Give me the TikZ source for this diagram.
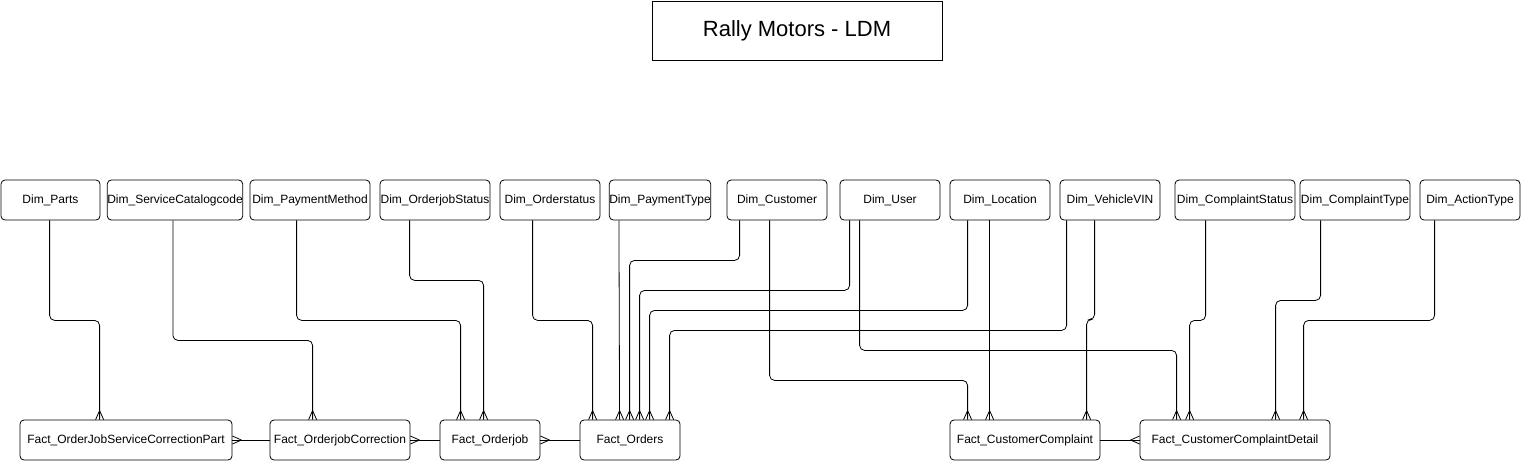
\documentclass[tikz,border=0pt]{standalone}
\usepackage{fontspec}
\setmainfont{Liberation Sans}
\usetikzlibrary{arrows.meta}
\pgfdeclarearrow{
  name = ERmany,
  parameters = {\the\pgfarrowlength,\the\pgfarrowwidth},
  setup code = {
    \pgfarrowssettipend{0pt}
    \pgfarrowssetlineend{0pt}
    \pgfarrowssetbackend{-\pgfarrowlength}
    \pgfarrowssetvisualbackend{-\pgfarrowlength}
    \pgfarrowsupperhullpoint{0pt}{.5\pgfarrowwidth}
    \pgfarrowshullpoint{-\pgfarrowlength}{0pt}
    \pgfarrowssavethe\pgfarrowlength
    \pgfarrowssavethe\pgfarrowwidth
  },
  drawing code = {
    \pgfsetroundjoin
    \pgfpathmoveto{\pgfqpoint{0pt}{.5\pgfarrowwidth}}
    \pgfpathlineto{\pgfqpoint{-\pgfarrowlength}{0pt}}
    \pgfpathlineto{\pgfqpoint{0pt}{-.5\pgfarrowwidth}}
    \pgfusepathqstroke
  },
  defaults = {length = 9pt, width = 8pt}
}
\begin{document}
\begin{tikzpicture}[x=1pt,y=-1pt,
  ent/.style={draw, rounded corners=4pt, minimum height=40pt, inner sep=0pt,
    font=\fontsize{12}{14}\selectfont, line width=0.8pt},
  titlebox/.style={draw, minimum height=59pt, minimum width=290pt, inner sep=0pt,
    font=\fontsize{22}{26}\selectfont, line width=0.8pt},
  rel/.style={draw, line width=0.8pt, rounded corners=5pt, -{ERmany}}]
\useasboundingbox (0,0) rectangle (1521,461);

\node[titlebox] (title) at (797,30.5) {Rally Motors - LDM};

% dimensions
\node[ent, minimum width=99pt]  (parts) at (50.5,200) {Dim\_Parts};
\node[ent, minimum width=130pt] (svc)   at (175,200) {Dim\_ServiceCatalogcode};
\node[ent, minimum width=120pt] (pm)    at (310,200) {Dim\_PaymentMethod};
\node[ent, minimum width=110pt] (ojs)   at (435,200) {Dim\_OrderjobStatus};
\node[ent, minimum width=100pt] (os)    at (550,200) {Dim\_Orderstatus};
\node[ent, minimum width=100pt] (pt)    at (660,200) {Dim\_PaymentType};
\node[ent, minimum width=100pt] (cust)  at (777,200) {Dim\_Customer};
\node[ent, minimum width=100pt] (user)  at (890,200) {Dim\_User};
\node[ent, minimum width=100pt] (loc)   at (1000,200) {Dim\_Location};
\node[ent, minimum width=100pt] (vin)   at (1110,200) {Dim\_VehicleVIN};
\node[ent, minimum width=120pt] (cs)    at (1235,200) {Dim\_ComplaintStatus};
\node[ent, minimum width=110pt] (ct)    at (1355,200) {Dim\_ComplaintType};
\node[ent, minimum width=100pt] (at)    at (1470,200) {Dim\_ActionType};

% facts
\node[ent, minimum width=212pt] (ojscp) at (126,440) {Fact\_OrderJobServiceCorrectionPart};
\node[ent, minimum width=140pt] (ojc)   at (340,440) {Fact\_OrderjobCorrection};
\node[ent, minimum width=100pt] (oj)    at (490,440) {Fact\_Orderjob};
\node[ent, minimum width=100pt] (fo)    at (630,440) {Fact\_Orders};
\node[ent, minimum width=150pt] (cc)    at (1025,440) {Fact\_CustomerComplaint};
\node[ent, minimum width=190pt] (ccd)   at (1235,440) {Fact\_CustomerComplaintDetail};

% fact-to-fact links
\draw[rel] (ojc.west) -- (ojscp.east);
\draw[rel] (oj.west) -- (ojc.east);
\draw[rel] (fo.west) -- (oj.east);
\draw[rel] (cc.east) -- (ccd.west);

% dimension links
\draw[rel] ([xshift=49pt]parts.south west) -- ++(0,100) -| ([xshift=80pt]ojscp.north west);
\draw[rel] ([xshift=66pt]svc.south west) -- ++(0,120) -| ([xshift=43pt]ojc.north west);
\draw[rel] ([xshift=47pt]pm.south west) -- ++(0,100) -| ([xshift=21pt]oj.north west);
\draw[rel] ([xshift=30pt]ojs.south west) -- ++(0,60) -| ([xshift=44pt]oj.north west);
\draw[rel] ([xshift=33pt]os.south west) -- ++(0,100) -| ([xshift=13pt]fo.north west);
\draw[rel] ([xshift=10pt]pt.south west) -- ([xshift=40pt]fo.north west);
\draw[rel] ([xshift=13pt]cust.south west) -- ++(0,40) -| ([xshift=50pt]fo.north west);
\draw[rel] ([xshift=10pt]user.south west) -- ++(0,70) -| ([xshift=60pt]fo.north west);
\draw[rel] ([xshift=18pt]loc.south west) -- ++(0,90) -| ([xshift=70pt]fo.north west);
\draw[rel] ([xshift=7pt]vin.south west) -- ++(0,110) -| ([xshift=90pt]fo.north west);
\draw[rel] ([xshift=43pt]cust.south west) -- ++(0,160) -| ([xshift=18pt]cc.north west);
\draw[rel] ([xshift=20pt]user.south west) -- ++(0,130) -| ([xshift=37pt]ccd.north west);
\draw[rel] ([xshift=40pt]loc.south west) -- ([xshift=40pt]cc.north west);
\draw[rel] ([xshift=35pt]vin.south west) -- ++(0,99) -| ([xshift=137pt]cc.north west);
\draw[rel] ([xshift=31pt]cs.south west) -- ++(0,100) -| ([xshift=50pt]ccd.north west);
\draw[rel] ([xshift=21pt]ct.south west) -- ++(0,80) -| ([xshift=136pt]ccd.north west);
\draw[rel] ([xshift=15pt]at.south west) -- ++(0,100) -| ([xshift=164pt]ccd.north west);
\end{tikzpicture}
\end{document}
